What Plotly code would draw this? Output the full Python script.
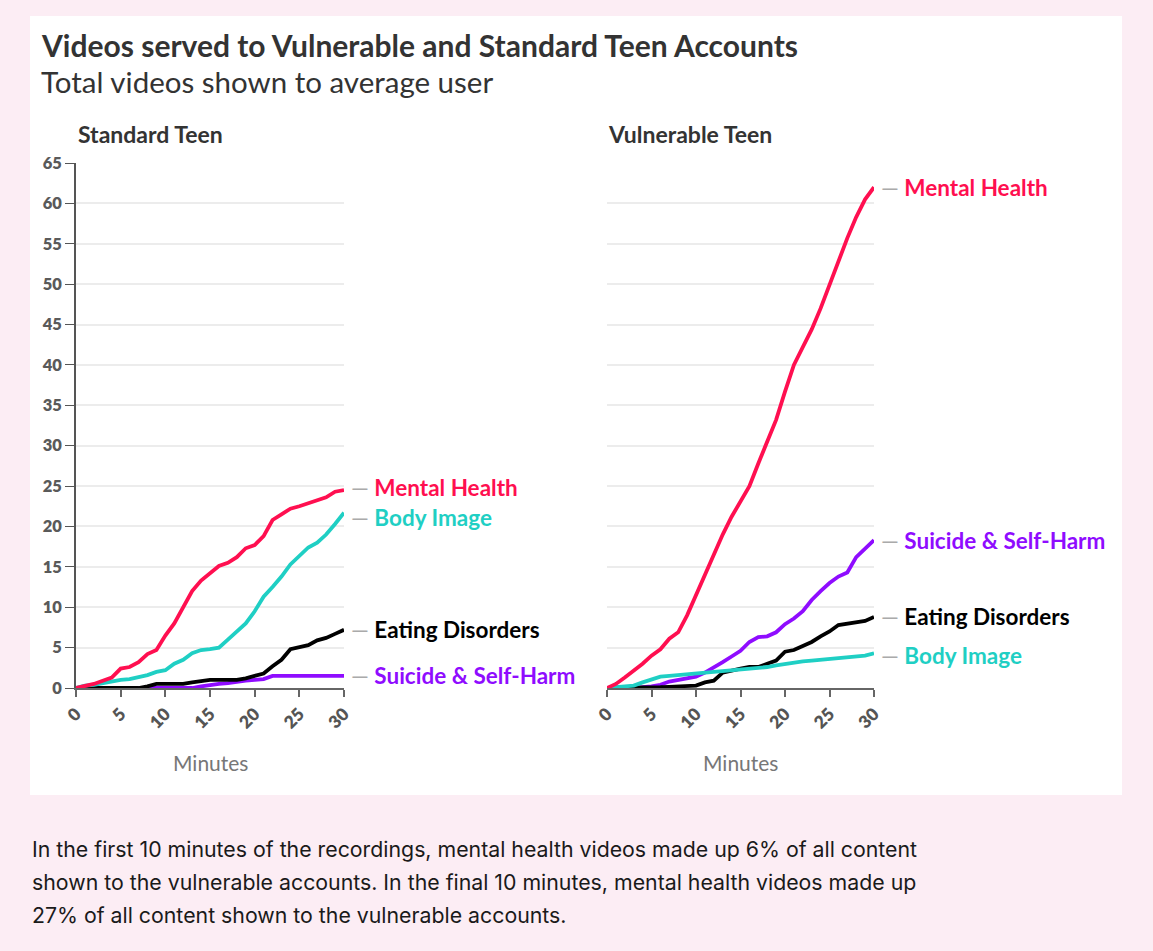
import plotly.graph_objects as go

# ---------------- data ----------------
minutes = list(range(31))

std_mental_health = [0, 0.2, 0.5, 0.9, 1.3, 2.4, 2.6, 3.2, 4.2, 4.7, 6.5, 8.0, 10.0, 12.0, 13.3, 14.2,
                     15.1, 15.5, 16.2, 17.3, 17.7, 18.8, 20.8, 21.5, 22.2, 22.5, 22.9, 23.2, 23.6, 24.3, 24.5]
std_body_image = [0, 0.3, 0.4, 0.6, 0.9, 1.0, 1.1, 1.3, 1.6, 2.0, 2.2, 3.0, 3.5, 4.3, 4.7, 4.8,
                  5.0, 6.0, 7.0, 8.0, 9.5, 11.3, 12.5, 13.8, 15.3, 16.3, 17.4, 18.0, 19.0, 20.3, 21.7]
std_eating = [0, 0, 0, 0, 0, 0, 0, 0, 0.2, 0.5, 0.5, 0.5, 0.5, 0.7, 0.9, 1.0,
              1.0, 1.0, 1.0, 1.2, 1.5, 1.8, 2.7, 3.5, 4.8, 5.0, 5.3, 5.9, 6.2, 6.7, 7.2]
std_suicide = [0, 0, 0, 0, 0, 0, 0, 0, 0, 0, 0, 0, 0, 0, 0.2, 0.4,
               0.5, 0.6, 0.8, 0.9, 1.0, 1.1, 1.5, 1.5, 1.5, 1.5, 1.5, 1.5, 1.5, 1.5, 1.5]

vul_mental_health = [0, 0.5, 1.3, 2.1, 3.0, 4.0, 4.8, 6.1, 6.9, 9.0, 11.5, 13.8, 16.3, 19.0, 21.2, 23.1,
                     25.0, 27.8, 30.5, 33.2, 36.7, 40.0, 42.2, 44.4, 47.0, 50.0, 53.0, 55.7, 58.3, 60.5, 62.0]
vul_suicide = [0, 0, 0, 0, 0.1, 0.2, 0.4, 0.8, 1.0, 1.3, 1.4, 1.9, 2.5, 3.2, 3.9, 4.6,
               5.7, 6.3, 6.4, 6.9, 7.9, 8.6, 9.5, 10.9, 12.0, 13.0, 13.8, 14.3, 16.2, 17.2, 18.3]
vul_eating = [0, 0, 0, 0, 0, 0, 0.1, 0.15, 0.2, 0.2, 0.3, 0.7, 0.9, 1.9, 2.2, 2.4,
              2.6, 2.6, 3.0, 3.4, 4.5, 4.7, 5.2, 5.7, 6.4, 7.0, 7.8, 8.0, 8.2, 8.3, 8.8]
vul_body_image = [0, 0.1, 0.2, 0.3, 0.7, 1.0, 1.4, 1.5, 1.6, 1.7, 1.8, 1.9, 1.9, 2.1, 2.1, 2.2,
                  2.3, 2.4, 2.6, 2.8, 3.0, 3.2, 3.3, 3.4, 3.5, 3.6, 3.6, 3.7, 3.8, 4.0, 4.3]

categories = ["Suicide & Self-Harm", "Eating Disorders", "Body Image", "Mental Health"]
colors = {"Mental Health": "#ff0f50", "Body Image": "#1fcfc4",
          "Eating Disorders": "#000000", "Suicide & Self-Harm": "#8f0cff"}
standard = {"Mental Health": std_mental_health, "Body Image": std_body_image,
            "Eating Disorders": std_eating, "Suicide & Self-Harm": std_suicide}
vulnerable = {"Mental Health": vul_mental_health, "Body Image": vul_body_image,
              "Eating Disorders": vul_eating, "Suicide & Self-Harm": vul_suicide}
y_ticks = list(range(0, 70, 5))
x_ticks = [0, 5, 10, 15, 20, 25, 30]

# label nudges (pixels) to avoid overlaps
std_shift = {"Mental Health": 3, "Body Image": -5, "Eating Disorders": 0, "Suicide & Self-Harm": 0}
vul_shift = {"Mental Health": 0, "Body Image": -2, "Eating Disorders": 0, "Suicide & Self-Harm": 0}

# ---------------- figure ----------------
W, H = 1153, 951
FONT = "Lato"

def px(x):
    return x / W

def py(y):
    return 1 - y / H

fig = go.Figure()

for cat in categories:
    fig.add_trace(go.Scatter(x=minutes, y=standard[cat], mode="lines", name=cat,
                             line=dict(color=colors[cat], width=3.8), xaxis="x", yaxis="y",
                             showlegend=False, hoverinfo="skip"))
    fig.add_trace(go.Scatter(x=minutes, y=vulnerable[cat], mode="lines", name=cat,
                             line=dict(color=colors[cat], width=3.8), xaxis="x2", yaxis="y2",
                             showlegend=False, hoverinfo="skip"))

annotations = []
for cat in categories:
    for xr, yr, data, shifts in (("x", "y", standard, std_shift), ("x2", "y2", vulnerable, vul_shift)):
        annotations.append(dict(
            x=minutes[-1], y=data[cat][-1], xref=xr, yref=yr, xanchor="left", yanchor="middle",
            xshift=5, yshift=shifts[cat], showarrow=False,
            text='<span style="color:#aaaaaa;font-weight:400">\u2014</span> ' + cat,
            font=dict(family=FONT, size=22.5, color=colors[cat], weight=700)))

# titles
annotations += [
    dict(x=px(39), y=py(45), xref="paper", yref="paper", xanchor="left", yanchor="middle",
         text="Videos served to Vulnerable and Standard Teen Accounts", showarrow=False,
         font=dict(family=FONT, size=30, color="#333333", weight=700)),
    dict(x=px(39), y=py(81), xref="paper", yref="paper", xanchor="left", yanchor="middle",
         text="Total videos shown to average user", showarrow=False,
         font=dict(family=FONT, size=29.5, color="#333333", weight=400)),
    dict(x=px(76), y=py(134), xref="paper", yref="paper", xanchor="left", yanchor="middle",
         text="Standard Teen", showarrow=False,
         font=dict(family=FONT, size=23, color="#333333", weight=700)),
    dict(x=px(606), y=py(134), xref="paper", yref="paper", xanchor="left", yanchor="middle",
         text="Vulnerable Teen", showarrow=False,
         font=dict(family=FONT, size=23, color="#333333", weight=700)),
    dict(x=px(210), y=py(762), xref="paper", yref="paper", xanchor="center", yanchor="middle",
         text="Minutes", showarrow=False,
         font=dict(family=FONT, size=21, color="#777777", weight=400)),
    dict(x=px(740), y=py(762), xref="paper", yref="paper", xanchor="center", yanchor="middle",
         text="Minutes", showarrow=False,
         font=dict(family=FONT, size=21, color="#777777", weight=400)),
]

body_lines = [
    "In the first 10 minutes of the recordings, mental health videos made up 6% of all content",
    "shown to the vulnerable accounts. In the final 10 minutes, mental health videos made up",
    "27% of all content shown to the vulnerable accounts.",
]
for i, line in enumerate(body_lines):
    annotations.append(dict(x=px(30), y=py(849 + 33 * i), xref="paper", yref="paper",
                            xanchor="left", yanchor="middle", text=line, showarrow=False,
                            font=dict(family="Inter", size=21.3, color="#1a1a1a")))

axis_common_x = dict(range=[0, 30], tickvals=x_ticks, tickangle=-45, showgrid=False, zeroline=False,
                     showline=True, linecolor="#666666", linewidth=2, ticks="outside", ticklen=7,
                     tickcolor="#666666", tickwidth=1.5, automargin=False,
                     tickfont=dict(family=FONT, size=17.5, color="#555555", weight=800), fixedrange=True)

fig.update_layout(
    width=W, height=H,
    autosize=False,
    margin=dict(l=0, r=0, t=0, b=0, pad=0, autoexpand=False),
    paper_bgcolor="#fcedf4",
    plot_bgcolor="rgba(0,0,0,0)",
    xaxis=dict(domain=[px(76), px(344)], anchor="y", **axis_common_x),
    xaxis2=dict(domain=[px(607), px(874)], anchor="y2", **axis_common_x),
    yaxis=dict(domain=[py(688), py(163)], range=[0, 65], tickvals=y_ticks, showgrid=True,
               gridcolor="#ececec", gridwidth=1.5, zeroline=False, showline=True, linecolor="#555555",
               linewidth=1.5, ticks="outside", ticklen=9, tickcolor="#555555", automargin=False,
               tickfont=dict(family=FONT, size=16.5, color="#5a5a5a", weight=800), anchor="x",
               fixedrange=True),
    yaxis2=dict(domain=[py(688), py(163)], range=[0, 65], tickvals=y_ticks, showgrid=True,
                gridcolor="#ececec", gridwidth=1.5, zeroline=False, showline=False, ticks="",
                showticklabels=False, anchor="x2", fixedrange=True, automargin=False),
    shapes=[dict(type="rect", xref="paper", yref="paper", x0=px(30), x1=px(1122), y0=py(795), y1=py(16),
                 fillcolor="#ffffff", line=dict(width=0), layer="below")],
    annotations=annotations,
    showlegend=False,
)

fig.write_html(
    "out.html",
    config={"displayModeBar": False},
    post_script="document.body.style.margin='0';document.body.style.overflow='hidden';"
                "document.body.style.background='#fcedf4';",
)
